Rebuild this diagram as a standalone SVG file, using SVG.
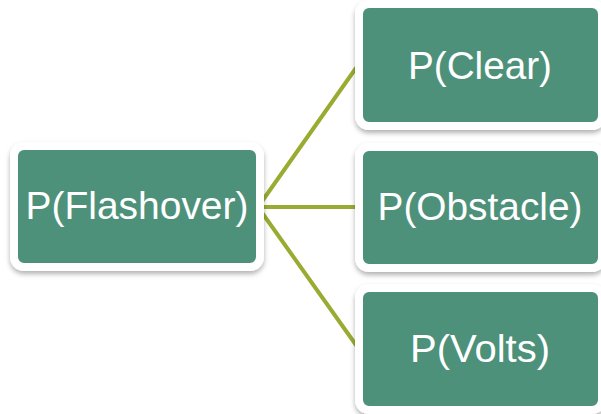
<svg xmlns="http://www.w3.org/2000/svg" width="601" height="414" viewBox="0 0 601 414">
<defs>
<filter id="sh" x="-10%" y="-10%" width="120%" height="130%">
<feDropShadow dx="0" dy="3" stdDeviation="2.5" flood-color="#000" flood-opacity="0.3"/>
</filter>
<style>
.box{fill:#4e917a;stroke:#fff;stroke-width:8;filter:url(#sh);}
.lbl{fill:#fff;font-family:"Liberation Sans",Arial,sans-serif;font-size:39px;text-anchor:middle;}
.con{stroke:#9aab32;stroke-width:4;fill:none;stroke-linecap:round;}
</style>
</defs>
<rect width="601" height="414" fill="#fff"/>
<g id="connectors">
<line class="con" x1="258" y1="207" x2="356" y2="68"/>
<line class="con" x1="258" y1="207" x2="356" y2="207"/>
<line class="con" x1="258" y1="207" x2="356" y2="345"/>
</g>
<g id="flashover">
<rect class="box" x="14" y="146" width="246" height="121" rx="10"/>
<text class="lbl" x="137" y="219" textLength="223" lengthAdjust="spacingAndGlyphs">P(Flashover)</text>
</g>
<g id="clear">
<rect class="box" x="359" y="4" width="243" height="122" rx="10"/>
<text class="lbl" x="480" y="79" textLength="144" lengthAdjust="spacingAndGlyphs">P(Clear)</text>
</g>
<g id="obstacle">
<rect class="box" x="359" y="147" width="243" height="121" rx="10"/>
<text class="lbl" x="480" y="220" textLength="205" lengthAdjust="spacingAndGlyphs">P(Obstacle)</text>
</g>
<g id="volts">
<rect class="box" x="359" y="288" width="243" height="122" rx="10"/>
<text class="lbl" x="480" y="362" textLength="140" lengthAdjust="spacingAndGlyphs">P(Volts)</text>
</g>
</svg>
